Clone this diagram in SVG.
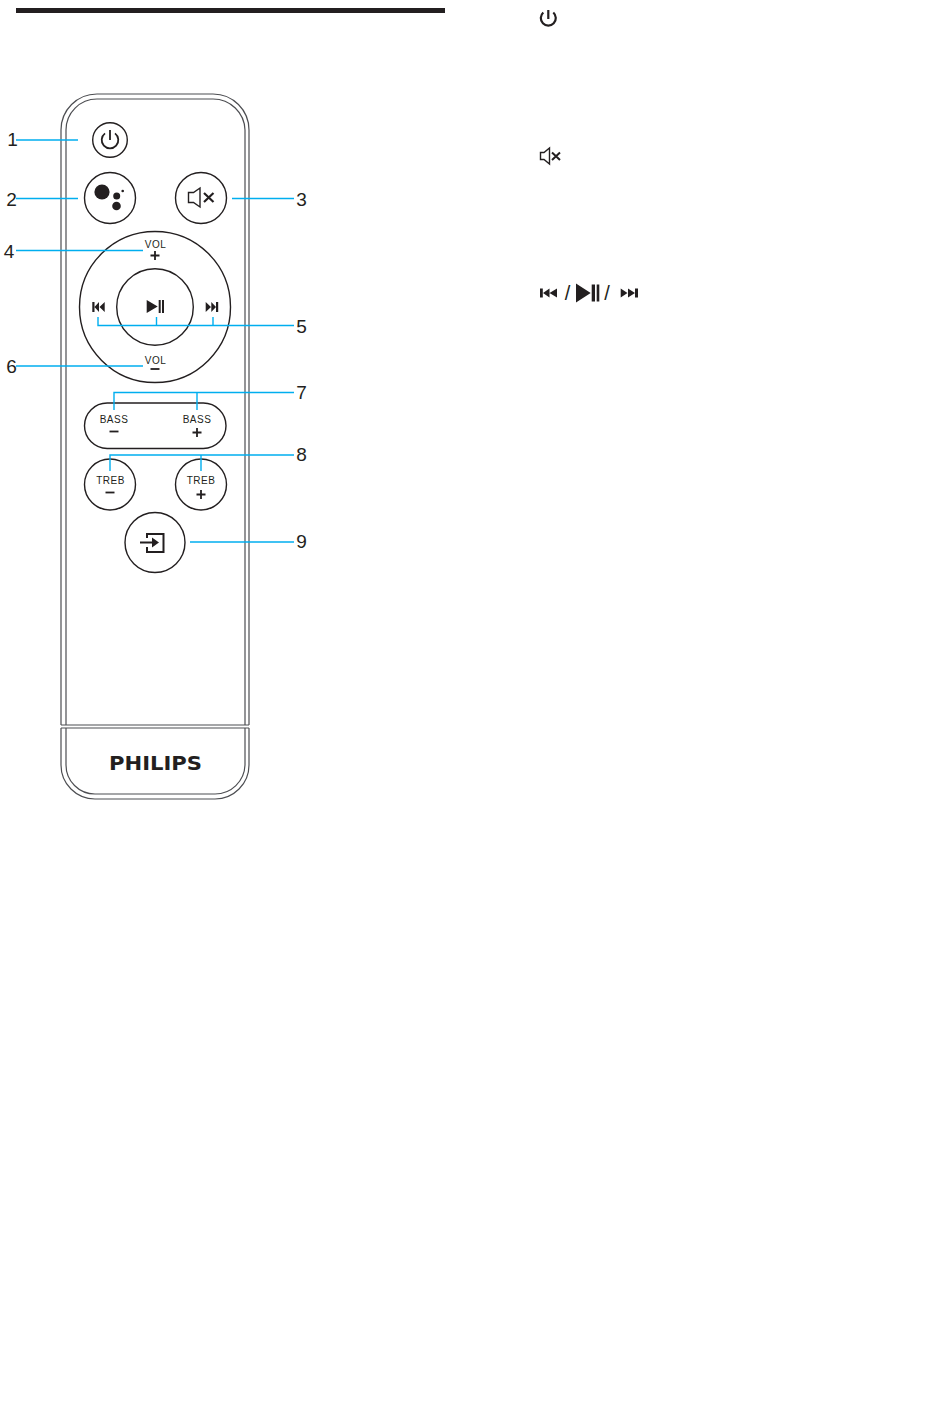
<svg xmlns="http://www.w3.org/2000/svg" width="950" height="1402" viewBox="0 0 950 1402">
<style>
.o{fill:none;stroke:#231f20;stroke-width:1.4}
.g{fill:none;stroke:#4d4e52;stroke-width:1.2}
.k{fill:#231f20;stroke:none}
.i{fill:none;stroke:#231f20;stroke-width:1.8}
.c{fill:none;stroke:#00aeef;stroke-width:1.4}
text{font-family:"Liberation Sans",Arial,sans-serif;fill:#231f20}
.n{font-size:19px;text-anchor:middle}
.s{font-size:10px;text-anchor:middle;letter-spacing:.5px}
.p{font-size:20px;text-anchor:middle}
</style>
<rect x="16" y="8" width="429" height="5" fill="#231f20"/>
<g id="remote-body">
<path class="g" d="M61 725V130A36 36 0 0 1 97 94H213A36 36 0 0 1 249 130V725"/>
<path class="g" d="M66 725V130A31 31 0 0 1 97 99H213A32 32 0 0 1 245 130V725"/>
<path class="g" d="M61 725H249M61 728H249"/>
<path class="g" d="M61 728V765A34 34 0 0 0 95 799H215A34 34 0 0 0 249 765V728"/>
<path class="g" d="M66 728V765A29 29 0 0 0 95 794H215A30 30 0 0 0 245 765V728"/>
<text x="155.500" y="770" font-size="20" font-weight="700" text-anchor="middle" textLength="93" lengthAdjust="spacingAndGlyphs" style="font-family:'DejaVu Sans',sans-serif">PHILIPS</text>
</g>
<g id="btn-power">
<circle class="o" cx="110" cy="140" r="17.300"/>
<path class="i" d="M110 130V140M105 133.400A8.300 8.300 0 1 0 115 133.400"/>
</g>
<g id="btn-assistant">
<circle class="o" cx="110" cy="198" r="25.500"/>
<circle class="k" cx="102" cy="192" r="7.600"/>
<circle class="k" cx="116.700" cy="196" r="3.500"/>
<circle class="k" cx="116.500" cy="206" r="4.300"/>
<circle class="k" cx="122.700" cy="191" r="1.300"/>
</g>
<g id="btn-mute">
<circle class="o" cx="201" cy="198" r="25.500"/>
<path class="o" d="M188.500 192.500H193.500L200 188V207L193.500 202.500H188.500Z"/>
<path class="i" style="stroke-width:2.200" d="M204 193L213.500 202M213.500 193L204 202"/>
</g>
<g id="btn-wheel">
<circle class="o" cx="155" cy="307" r="75.500"/>
<circle class="o" cx="155" cy="307" r="38.300"/>
<text class="s" x="155.500" y="248">VOL</text>
<path class="i" d="M155 251V260M150.500 255.500H159.500"/>
<path class="k" d="M146.700 300L157.700 306.500L146.700 313ZM158.700 300H160.700V313H158.700ZM162 300H164V313H162Z"/>
<path class="k" d="M92.300 302H94.500V312H92.300ZM99 302V312L94.500 307ZM104.700 302V312L99.500 307Z"/>
<path class="k" d="M205.700 302L211 307L205.700 312ZM211.300 302L216 307L211.300 312ZM216 302H218.200V312H216Z"/>
<text class="s" x="155.500" y="364">VOL</text>
<path class="i" d="M150.500 369H159.500"/>
</g>
<g id="btn-bass">
<rect class="o" x="84.500" y="403" width="141.500" height="45.500" rx="22.700"/>
<text class="s" x="114" y="423">BASS</text>
<path class="i" d="M109.500 431.500H118.500"/>
<text class="s" x="197" y="423">BASS</text>
<path class="i" d="M197 428V437M192.500 432.500H201.500"/>
</g>
<g id="btn-treble-minus">
<circle class="o" cx="110" cy="484.500" r="25.500"/>
<text class="s" x="110.500" y="484">TREB</text>
<path class="i" d="M105.500 492.500H114.500"/>
</g>
<g id="btn-treble-plus">
<circle class="o" cx="201" cy="484.500" r="25.500"/>
<text class="s" x="201" y="484">TREB</text>
<path class="i" d="M201 490V499M196.500 494.500H205.500"/>
</g>
<g id="btn-source">
<circle class="o" cx="155" cy="542.500" r="30"/>
<path class="i" style="stroke-width:2" d="M147 538V534H163.500V552H147V547"/>
<path class="i" style="stroke-width:2" d="M140 542.500H153"/>
<path class="k" d="M152 537.500L159 542.500L152 547.500Z"/>
</g>
<g id="connectors">
<path class="c" d="M16 140H78"/>
<path class="c" d="M16 198.500H78"/>
<path class="c" d="M232 198.500H294"/>
<path class="c" d="M16 250.500H143"/>
<path class="c" d="M98 317V325.500H294M156.500 317V325.500M213 317V325.500"/>
<path class="c" d="M16 366H143"/>
<path class="c" d="M114 410V392.500H294M197 392.500V410"/>
<path class="c" d="M110 471V455H294M201 455V471"/>
<path class="c" d="M190 542H294"/>
</g>
<g id="labels">
<text class="n" x="12.500" y="146">1</text>
<text class="n" x="11.500" y="206">2</text>
<text class="n" x="301.500" y="206">3</text>
<text class="n" x="9" y="258">4</text>
<text class="n" x="301.500" y="333">5</text>
<text class="n" x="11.500" y="373">6</text>
<text class="n" x="301.500" y="399">7</text>
<text class="n" x="301.500" y="461">8</text>
<text class="n" x="301.500" y="548">9</text>
</g>
<g id="icon-power">
<path class="i" style="stroke-width:2.200" d="M548.300 10V19M543.300 12.500A7.500 7.500 0 1 0 553.300 12.500"/>
</g>
<g id="icon-mute">
<path class="o" d="M540.500 152.500H544L549.500 148V164L544 159.500H540.500Z"/>
<path class="i" style="stroke-width:2" d="M552 152.500L560 160M560 152.500L552 160"/>
</g>
<g id="icon-transport">
<path class="k" d="M540 288.500H542.800V297.500H540ZM543 293L549.500 288.500V297.500ZM549.500 293L557 288.500V297.500Z"/>
<text class="p" x="567.500" y="300">/</text>
<path class="k" d="M576 283.500L590.700 293L576 302.500ZM591.700 284.500H595V301.500H591.700ZM596.700 284.500H599.300V301.500H596.700Z"/>
<text class="p" x="607" y="300">/</text>
<path class="k" d="M620.700 288.500L627.500 293L620.700 297.500ZM628 288.500L635 293L628 297.500ZM635 288.500H638V297.500H635Z"/>
</g>
</svg>
